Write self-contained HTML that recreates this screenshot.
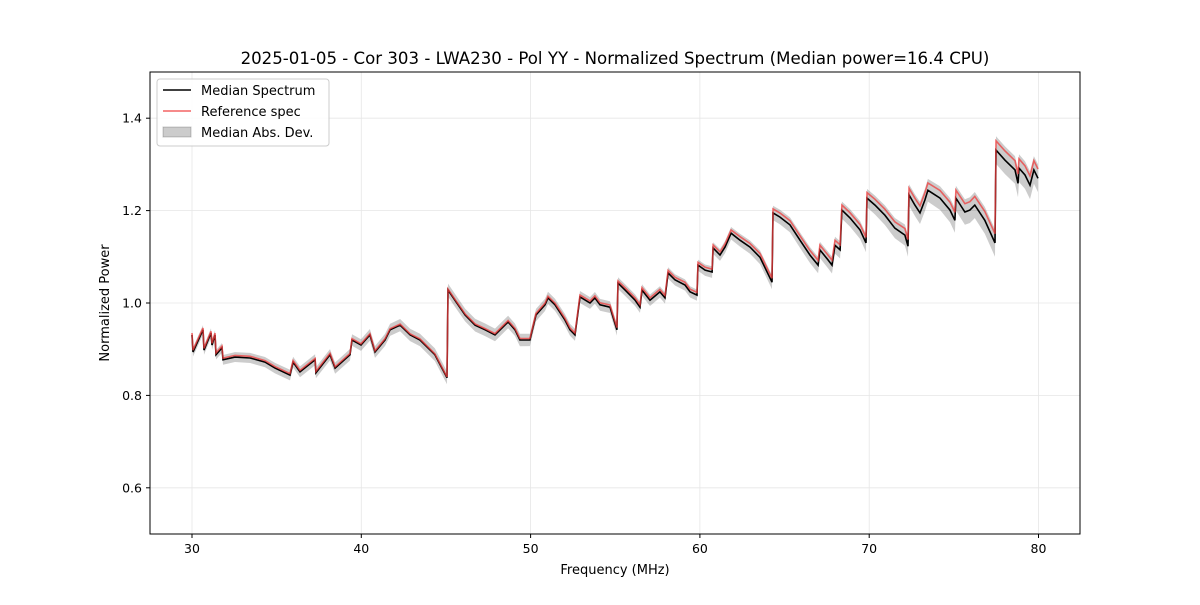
<!DOCTYPE html>
<html><head><meta charset="utf-8"><style>
body{margin:0;background:#fff;font-family:"Liberation Sans","DejaVu Sans",sans-serif}
</style></head><body>
<svg id="chart" width="1200" height="600" xmlns="http://www.w3.org/2000/svg" font-family="DejaVu Sans, Liberation Sans, sans-serif">
<rect width="1200" height="600" fill="#fff"/>
<text x="615" y="64" text-anchor="middle" font-size="16.6">2025-01-05 - Cor 303 - LWA230 - Pol YY - Normalized Spectrum (Median power=16.4 CPU)</text>
<g id="grid"></g><g id="series"></g>
<rect x="150" y="72" width="930" height="462" fill="none" stroke="#000" stroke-width="1"/>
<g id="axes" font-size="12.5"></g>
<text x="615" y="574" text-anchor="middle" font-size="13">Frequency (MHz)</text>
<text transform="translate(109,303) rotate(-90)" text-anchor="middle" font-size="13">Normalized Power</text>
<g>
<rect x="157" y="79" width="172" height="67" rx="3" fill="#fff" fill-opacity="0.85" stroke="#ccc"/>
<g><line x1="163" y1="90" x2="191" y2="90" stroke="#000" stroke-width="1.5"/><text x="201" y="95" font-size="13">Median Spectrum</text></g>
<g><line x1="163" y1="111" x2="191" y2="111" stroke="#f03c3c" stroke-opacity="0.8" stroke-width="1.5"/><text x="201" y="116" font-size="13">Reference spec</text></g>
<g><rect x="163" y="127" width="28" height="10" fill="#000" fill-opacity="0.2" stroke="#000" stroke-opacity="0.2"/><text x="201" y="137" font-size="13">Median Abs. Dev.</text></g>
</g>
</svg>
<script>
const freqs=[30.00,30.06,30.65,30.71,31.12,31.18,31.36,31.42,31.77,31.83,32.54,33.43,34.31,34.90,35.79,35.97,36.38,37.27,37.32,38.15,38.45,39.33,39.45,39.98,40.51,40.81,41.40,41.70,42.29,42.88,43.47,44.35,45.06,45.12,45.53,46.13,46.72,47.31,47.90,48.67,49.08,49.37,49.96,50.32,50.85,51.03,51.44,52.03,52.33,52.62,52.92,53.51,53.80,54.10,54.69,55.10,55.16,55.58,56.17,56.46,56.58,57.05,57.64,57.94,58.12,58.53,59.12,59.42,59.83,59.89,60.31,60.72,60.78,61.19,61.48,61.84,62.37,62.96,63.55,64.26,64.32,64.73,65.32,65.91,66.50,66.98,67.09,67.57,67.80,67.98,68.28,68.39,68.87,69.46,69.81,69.87,70.34,70.93,71.52,72.11,72.29,72.35,72.70,73.00,73.29,73.47,74.18,74.77,75.06,75.12,75.65,75.95,76.24,76.83,77.43,77.49,78.02,78.61,78.79,78.85,79.20,79.50,79.73,79.97];
const median=[0.931,0.894,0.942,0.898,0.935,0.909,0.931,0.888,0.903,0.877,0.883,0.881,0.872,0.859,0.844,0.872,0.851,0.877,0.849,0.888,0.859,0.888,0.920,0.909,0.931,0.894,0.920,0.942,0.952,0.931,0.920,0.888,0.838,1.028,1.006,0.974,0.952,0.942,0.931,0.959,0.942,0.920,0.920,0.974,0.996,1.011,0.996,0.963,0.942,0.931,1.013,1.000,1.011,0.996,0.991,0.942,1.043,1.028,1.006,0.991,1.028,1.006,1.024,1.011,1.065,1.050,1.039,1.024,1.017,1.082,1.071,1.067,1.119,1.104,1.121,1.151,1.136,1.121,1.099,1.045,1.195,1.186,1.169,1.136,1.104,1.082,1.115,1.093,1.082,1.125,1.115,1.201,1.184,1.158,1.130,1.227,1.212,1.190,1.162,1.147,1.123,1.234,1.212,1.195,1.223,1.244,1.227,1.201,1.179,1.227,1.197,1.201,1.212,1.179,1.130,1.331,1.309,1.288,1.259,1.292,1.277,1.255,1.288,1.270];
const refFreqs=[30,45,60,70,77.5,80];
const refDelta=[0.004,0.002,0.006,0.012,0.02,0.02];
const madFreqs=[30,45,60,70,77.5,80];
const madWidth=[0.01,0.014,0.012,0.02,0.03,0.03];
const xTicks=[30,40,50,60,70,80];
const yTicks=[0.6,0.8,1.0,1.2,1.4];
const yTickLabels=["0.6","0.8","1.0","1.2","1.4"];

const X=f=>192+(f-30)*16.93;
const Y=v=>534-(v-0.5)*462;
function interp(xs,ys,f){for(let i=0;i<xs.length-1;i++){if(f<=xs[i+1]){const t=(f-xs[i])/(xs[i+1]-xs[i]);return ys[i]+t*(ys[i+1]-ys[i]);}}return ys[ys.length-1];}
const NS="http://www.w3.org/2000/svg";
function mk(tag,attrs,parent){const e=document.createElementNS(NS,tag);for(const k in attrs)e.setAttribute(k,attrs[k]);parent.appendChild(e);return e;}
const grid=document.getElementById('grid'),axes=document.getElementById('axes'),ser=document.getElementById('series');
xTicks.forEach(t=>{const x=X(t);
 const g=mk('line',{x1:x,x2:x,y1:72,y2:534,stroke:'#e6e6e6','stroke-width':0.8},grid);
 
 
 mk('line',{x1:x,x2:x,y1:534,y2:538,stroke:'#000'},axes);
 const tx=mk('text',{x:x,y:553,'text-anchor':'middle'},axes);tx.textContent=t;
 
 });
yTicks.forEach((t,i)=>{const y=Y(t);
 const g=mk('line',{x1:150,x2:1080,y1:y,y2:y,stroke:'#e6e6e6','stroke-width':0.8},grid);
 
 
 mk('line',{x1:146,x2:150,y1:y,y2:y,stroke:'#000'},axes);
 const tx=mk('text',{x:142,y:y+4.5,'text-anchor':'end'},axes);tx.textContent=yTickLabels[i];
 
 });
let up='',dn='';
freqs.forEach((f,i)=>{const w=interp(madFreqs,madWidth,f);up+=(i?'L':'M')+X(f).toFixed(1)+','+Y(median[i]+w).toFixed(1);});
for(let i=freqs.length-1;i>=0;i--){const w=interp(madFreqs,madWidth,freqs[i]);dn+='L'+X(freqs[i]).toFixed(1)+','+Y(median[i]-w).toFixed(1);}
const band=mk('path',{d:up+dn+'Z',fill:'#000','fill-opacity':0.2,stroke:'none'},ser);


const mp=mk('path',{d:freqs.map((f,i)=>(i?'L':'M')+X(f).toFixed(1)+','+Y(median[i]).toFixed(1)).join(''),fill:'none',stroke:'#000','stroke-width':1.6},ser);


const rp=mk('path',{d:freqs.map((f,i)=>(i?'L':'M')+X(f).toFixed(1)+','+Y(median[i]+interp(refFreqs,refDelta,f)).toFixed(1)).join(''),fill:'none',stroke:'#f03c3c','stroke-opacity':0.75,'stroke-width':1.6},ser);


</script>
</body></html>
